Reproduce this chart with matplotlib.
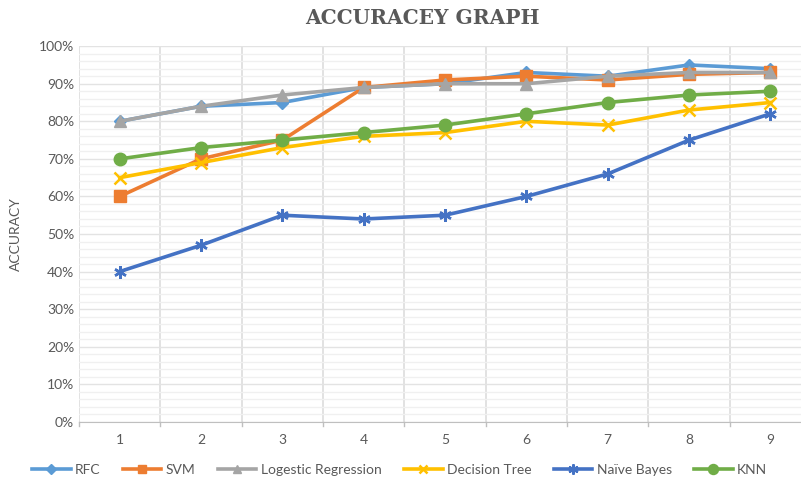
import numpy as np
import matplotlib
matplotlib.use("Agg")
import matplotlib.pyplot as plt
from matplotlib.ticker import MultipleLocator, PercentFormatter

# -----------------
# DATA
# -----------------
runs = [1, 2, 3, 4, 5, 6, 7, 8, 9]
rfc = [80, 84, 85, 89, 90, 93, 92, 95, 94]
svm = [60, 70, 75, 89, 91, 92, 91, 92.5, 93]
logreg = [80, 84, 87, 89, 90, 90, 92, 93, 93]
dtree = [65, 69, 73, 76, 77, 80, 79, 83, 85]
nbayes = [40, 47, 55, 54, 55, 60, 66, 75, 82]
knn = [70, 73, 75, 77, 79, 82, 85, 87, 88]

series = [
    ("RFC", rfc, "#5B9BD5", "D", 6),
    ("SVM", svm, "#ED7D31", "s", 8),
    ("Logestic Regression", logreg, "#A5A5A5", "^", 8),
    ("Decision Tree", dtree, "#FFC000", "x", 8),
    ("Naïve Bayes", nbayes, "#4472C4", (6, 2, 0), 9),
    ("KNN", knn, "#70AD47", "o", 9),
]

plt.rcParams["font.family"] = ["Lato", "DejaVu Sans"]
txt = "#595959"

fig = plt.figure(figsize=(8.01, 4.86), dpi=100)
ax = fig.add_axes([0.0986, 0.132, 0.914, 0.773])

for name, vals, col, mk, ms in series:
    mew = 1.8 if mk in ("x", (6, 2, 0)) else 1
    ax.plot(runs, vals, color=col, linewidth=2.6, marker=mk, markersize=ms,
            markeredgewidth=mew, markeredgecolor=col, label=name, zorder=3)

ax.set_xlim(0.5, 9.5)
ax.set_ylim(0, 100)
ax.yaxis.set_major_locator(MultipleLocator(10))
ax.yaxis.set_minor_locator(MultipleLocator(2))
ax.yaxis.set_major_formatter(PercentFormatter(decimals=0))
ax.set_xticks(runs)

# gridlines (excel style)
ax.grid(axis="y", which="major", color="#E3E3E3", linewidth=1)
ax.grid(axis="y", which="minor", color="#F0F0F0", linewidth=1)
for b in np.arange(0.5, 10, 1.0):
    ax.axvline(b, color="#DDDDDD", linewidth=1.2, zorder=1)
    ax.plot([b, b], [0, -1], color="#BFBFBF", linewidth=1, clip_on=False)

for s in ["top", "right", "left"]:
    ax.spines[s].set_visible(False)
ax.spines["bottom"].set_color("#BFBFBF")
ax.tick_params(axis="both", which="both", length=0, colors=txt, labelsize=10)
ax.tick_params(axis="x", pad=9)

ax.set_ylabel("ACCURACY", fontsize=10, color=txt, labelpad=12)
fig.text(0.527, 0.962, "ACCURACEY GRAPH", ha="center", va="center",
         fontsize=14.5, fontweight="bold", color=txt, family="DejaVu Serif")

ax.legend(loc="center", bbox_to_anchor=(0.0986 + 0.4, 0.033), bbox_transform=fig.transFigure,
          ncol=6, frameon=False, fontsize=10, handlelength=2.8, columnspacing=1.6,
          handletextpad=0.3, labelcolor=txt, markerscale=0.8)

fig.savefig("out.png", dpi=100)
